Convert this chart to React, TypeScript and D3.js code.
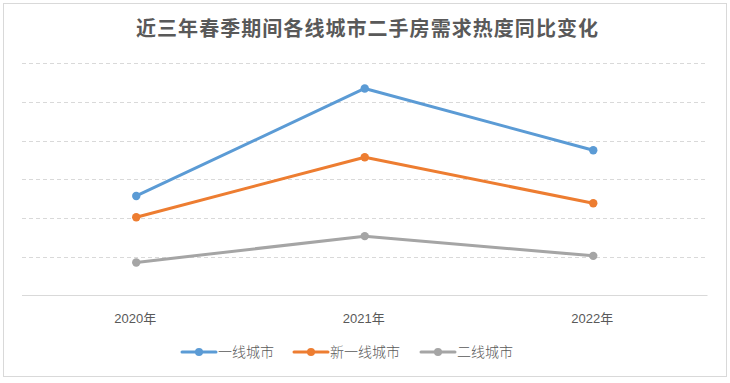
import React from "react";
import * as d3 from "d3";

const title = "近三年春季期间各线城市二手房需求热度同比变化";
const categories = ["2020年", "2021年", "2022年"];
const seriesNames = ["一线城市", "新一线城市", "二线城市"];
const tier1 = [2.57, 5.35, 3.75];
const newTier1 = [2.02, 3.57, 2.38];
const tier2 = [0.85, 1.53, 1.02];
const yTicks = [0, 1, 2, 3, 4, 5, 6];
const colors = ["#5B9BD5", "#ED7D31", "#A5A5A5"];

export default function App() {
  const W = 730, H = 383;
  const left = 22, right = 707.5, top = 63.3, bottom = 295.3;
  const x = d3.scaleBand<string>().domain(categories).range([left, right]);
  const y = d3.scaleLinear().domain([0, 6]).range([bottom, top]);
  const cx = (c: string) => (x(c) as number) + x.bandwidth() / 2;
  const series = [tier1, newTier1, tier2];
  const line = d3.line<number>().x((_, i) => cx(categories[i])).y((v) => y(v));
  const legendX = [182, 294, 421];
  const legendY = 352;
  const font = "'Liberation Sans', 'Noto Sans CJK SC', sans-serif";
  return (
    <svg width={W} height={H} style={{ position: "fixed", left: 0, top: 0, background: "#fff" }}>
      <rect x={3.5} y={3.5} width={723} height={373} fill="#fff" stroke="#D9D9D9" strokeWidth={1} />
      <text x={367} y={36} textAnchor="middle" fontFamily="'Noto Sans CJK SC', sans-serif" fontWeight="bold" fontSize={20} fill="#595959" textLength={462} lengthAdjust="spacing">{title}</text>
      {yTicks.slice(1).map((t) => (
        <line key={t} x1={left} x2={right - 2} y1={Math.round(y(t)) + 0.5} y2={Math.round(y(t)) + 0.5} stroke="#D9D9D9" strokeWidth={1} strokeDasharray="4,3" />
      ))}
      <line x1={left} x2={right} y1={295.5} y2={295.5} stroke="#D9D9D9" strokeWidth={1} />
      {categories.map((c) => (
        <text key={c} x={cx(c) - 1} y={323} textAnchor="middle" fontFamily={font} fontSize={13} fill="#595959">{c}</text>
      ))}
      {series.map((s, i) => (
        <g key={i}>
          <path d={line(s) || ""} fill="none" stroke={colors[i]} strokeWidth={3} strokeLinejoin="round" strokeLinecap="round" />
          {s.map((v, j) => (
            <circle key={j} cx={cx(categories[j])} cy={y(v)} r={4.2} fill={colors[i]} />
          ))}
        </g>
      ))}
      {seriesNames.map((n, i) => (
        <g key={n}>
          <line x1={legendX[i]} x2={legendX[i] + 34} y1={legendY} y2={legendY} stroke={colors[i]} strokeWidth={3} strokeLinecap="round" />
          <circle cx={legendX[i] + 17} cy={legendY} r={4} fill={colors[i]} />
          <text x={legendX[i] + 36} y={legendY + 5} fontFamily="'Noto Sans CJK SC', sans-serif" fontWeight={300} fontSize={14} fill="#595959">{n}</text>
        </g>
      ))}
    </svg>
  );
}
